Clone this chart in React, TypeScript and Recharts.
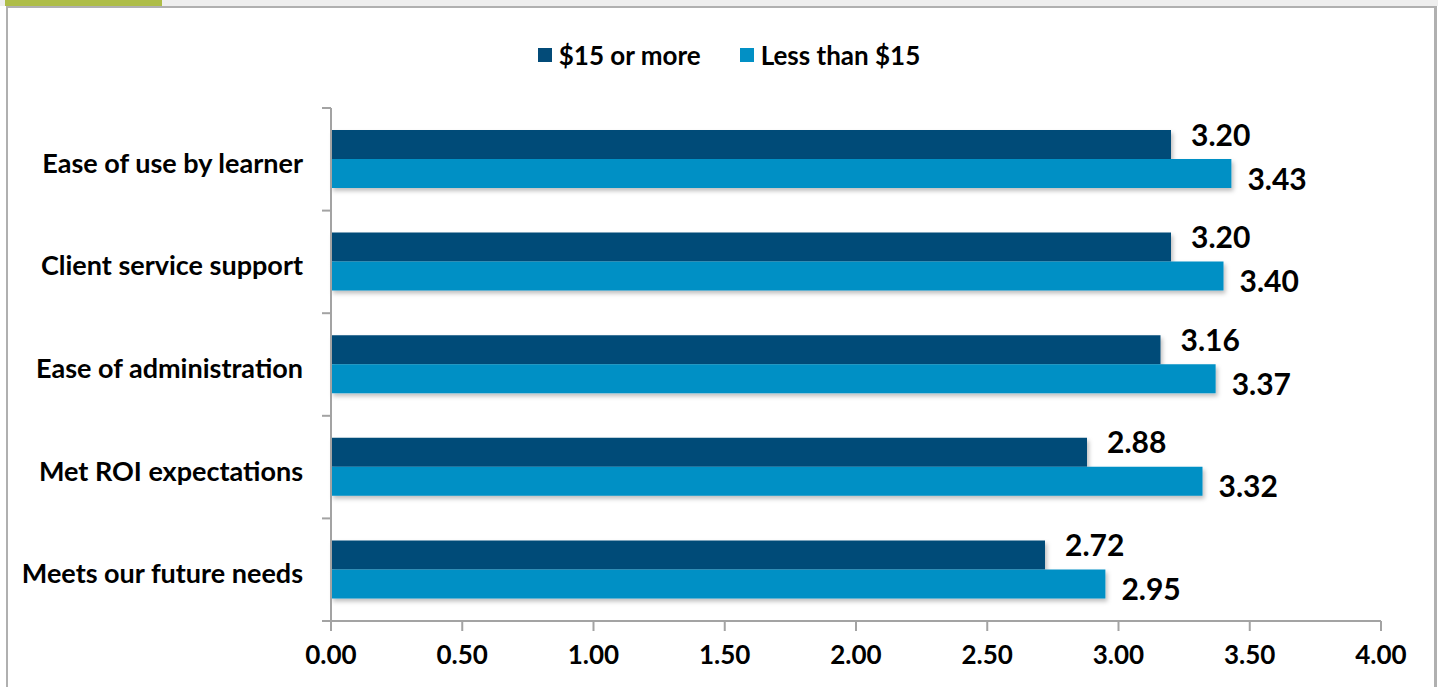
import React from 'react';
import { BarChart, Bar, XAxis, YAxis, Legend, LabelList } from 'recharts';

const categories = [
  'Ease of use by learner',
  'Client service support',
  'Ease of administration',
  'Met ROI expectations',
  'Meets our future needs',
];
const fifteenOrMore = [3.2, 3.2, 3.16, 2.88, 2.72];
const lessThanFifteen = [3.43, 3.4, 3.37, 3.32, 2.95];
const xTicks = [0, 0.5, 1, 1.5, 2, 2.5, 3, 3.5, 4];

const DARK = '#034b78';
const LIGHT = '#0290c5';
const AXIS = '#a3a3a3';
const FONT = 'Lato, "Open Sans", sans-serif';
const TICK_LEN = 9;
const TICK_GAP = 19;

const data = categories.map((name, i) => ({
  name,
  high: fifteenOrMore[i],
  low: lessThanFifteen[i],
}));

const legendItems = [
  { label: '$15 or more', color: DARK },
  { label: 'Less than $15', color: LIGHT },
];

function ChartLegend() {
  return (
    <div style={{ display: 'flex', justifyContent: 'center', gap: 39, paddingLeft: 20, fontFamily: FONT, fontWeight: 700, fontSize: 26, lineHeight: '30px' }}>
      {legendItems.map((it) => (
        <div key={it.label} style={{ display: 'flex', alignItems: 'center' }}>
          <span style={{ width: 14, height: 14, background: it.color, marginRight: 7, display: 'inline-block' }} />
          <span style={{ color: '#000' }}>{it.label}</span>
        </div>
      ))}
    </div>
  );
}

// category label plus Excel-style tick marks on the band boundaries instead of the band centre
function CategoryTick(props: any) {
  const { x, y, payload, index, visibleTicksCount, height } = props;
  const band = height / visibleTicksCount;
  const axisX = x + TICK_GAP + TICK_LEN;
  const edges = [y - band / 2];
  if (index === visibleTicksCount - 1) edges.push(y + band / 2);
  return (
    <g>
      {edges.map((ey, i) => (
        <line key={i} x1={axisX - TICK_LEN} x2={axisX} y1={ey} y2={ey} stroke={AXIS} strokeWidth={2} />
      ))}
      <text
        x={x}
        y={y + 3}
        textAnchor="end"
        dominantBaseline="central"
        fontFamily={FONT}
        fontWeight={700}
        fontSize={27}
        fill="#000"
      >
        {payload.value}
      </text>
    </g>
  );
}

// value labels sit just past the bar end, nudged up for the upper bar and down for the lower one
const makeValueLabel = (dx: number, dy: number) => (props: any) => {
  const { x, y, width, height, value } = props;
  return (
    <text
      x={x + width + dx}
      y={y + height / 2 + dy}
      dominantBaseline="central"
      fontFamily={FONT}
      fontWeight={700}
      fontSize={30}
      fill="#000"
    >
      {Number(value).toFixed(2)}
    </text>
  );
};

export default function App() {
  return (
    <div style={{ position: 'absolute', left: 0, top: 0, width: 1438, height: 687, background: '#fff', overflow: 'hidden' }}>
      {/* frame: header strip with tab, then grey border */}
      <div style={{ position: 'absolute', left: 0, top: 0, width: 1438, height: 6, background: '#eeeeee' }} />
      <div style={{ position: 'absolute', left: 5, top: 0, width: 157, height: 6, background: '#aebd48' }} />
      <div
        style={{
          position: 'absolute',
          left: 6,
          top: 6,
          width: 1426,
          height: 700,
          borderTop: '2px solid #b0b0b0',
          borderLeft: '2px solid #b0b0b0',
          borderRight: '3px solid #b0b0b0',
        }}
      />
      <div style={{ position: 'absolute', left: 0, top: 0 }}>
        <BarChart
          width={1438}
          height={687}
          data={data}
          layout="vertical"
          margin={{ top: 108, right: 57, bottom: 0, left: 0 }}
          barCategoryGap={22}
          barGap={0}
        >
          <defs>
            <filter id="barShadow" x="-5%" y="-20%" width="110%" height="160%">
              <feDropShadow dx="2" dy="3" stdDeviation="2" floodColor="#000" floodOpacity="0.25" />
            </filter>
          </defs>
          <YAxis
            type="category"
            dataKey="name"
            width={331}
            stroke={AXIS}
            strokeWidth={2}
            tickLine={false}
            tickSize={TICK_LEN}
            tickMargin={TICK_GAP}
            interval={0}
            tick={<CategoryTick />}
          />
          <XAxis
            type="number"
            domain={[0, 4]}
            ticks={xTicks}
            tickFormatter={(v: number) => v.toFixed(2)}
            height={66}
            stroke={AXIS}
            strokeWidth={2}
            tickSize={10}
            tickMargin={15}
            tick={{ fill: '#000', fontFamily: FONT, fontWeight: 700, fontSize: 26 }}
          />
          <Legend
            verticalAlign="middle"
            align="center"
            wrapperStyle={{ top: 40, left: 0, width: 1438 }}
            content={() => <ChartLegend />}
          />
          <Bar dataKey="high" name="$15 or more" fill={DARK} isAnimationActive={false} filter="url(#barShadow)">
            <LabelList dataKey="high" content={makeValueLabel(20, -11)} />
          </Bar>
          <Bar dataKey="low" name="Less than $15" fill={LIGHT} isAnimationActive={false} filter="url(#barShadow)">
            <LabelList dataKey="low" content={makeValueLabel(16, 4)} />
          </Bar>
        </BarChart>
      </div>
    </div>
  );
}
